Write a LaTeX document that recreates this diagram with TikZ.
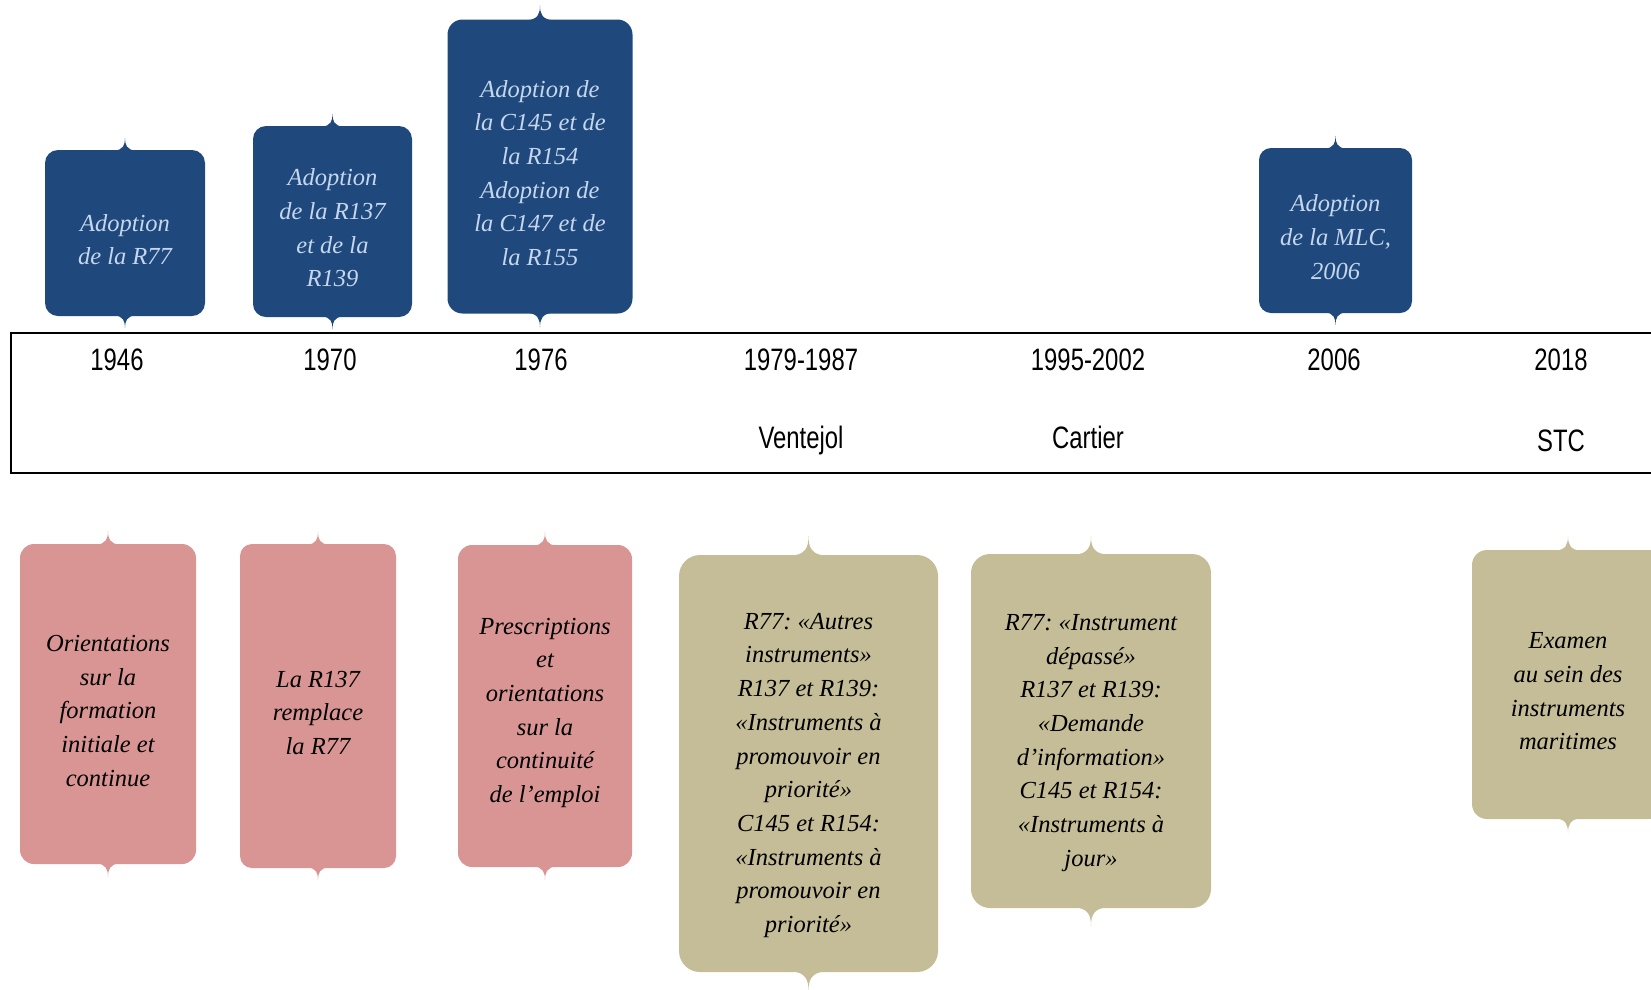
\documentclass[tikz,border=0pt]{standalone}
\usepackage{fontspec}
\newfontfamily\yearfont[FakeStretch=0.77]{Liberation Sans}
\newfontfamily\boxfont{Liberation Serif}
\usetikzlibrary{positioning}
\frenchspacing

\definecolor{adoptblue}{RGB}{31,73,125}
\definecolor{adopttext}{RGB}{198,214,236}
\definecolor{rosebox}{RGB}{217,149,148}
\definecolor{khakibox}{RGB}{196,189,151}

% pushes the text block a little down in its box
\newcommand{\lift}[1]{\rule{0pt}{#1}}

% brace-like tips on top and bottom of a box
\newcommand{\boxtips}[4]{%
  \foreach \side/\flip in {north/1,south/-1}{
    \fill[fill=#2, shift={(#1.\side)}, yscale=\flip]
      (-#3,1) .. controls (-0.15*#3,0) and (0,-0.4*#4) .. (0,-#4)
      .. controls (0,-0.4*#4) and (0.15*#3,0) .. (#3,1) -- cycle;
  }%
}

\begin{document}
\begin{tikzpicture}[
        x=1pt, y=-1pt,
        node distance=78pt,
        on grid,
        boxtext/.style={font=\boxfont\itshape\fontsize{24.5}{33.7}\selectfont, align=center, inner sep=0pt},
        adopt/.style={boxtext, fill=adoptblue, text=adopttext, rounded corners=13pt},
        rose/.style={boxtext, fill=rosebox, text=black, rounded corners=14pt},
        khaki/.style={boxtext, fill=khakibox, text=black, rounded corners=20pt},
        yearlbl/.style={font=\yearfont\fontsize{31}{31}\selectfont, text height=22pt, text depth=0pt, inner sep=0pt},
        bandframe/.style={draw=black, line width=2pt}
    ]
    \useasboundingbox (0,0) rectangle (1651,989);
    \clip (0,0) rectangle (1651,989);

    % adoption boxes
    \node[adopt, minimum width=160pt, minimum height=166pt] (a46) at (125,233) {\lift{30pt}Adoption\\de la R77};
    \node[adopt, minimum width=159pt, minimum height=191pt] (a70) at (332.5,221.5) {\lift{30pt}Adoption\\de la R137\\et de la\\R139};
    \node[adopt, minimum width=185pt, minimum height=294pt, rounded corners=15pt] (a76) at (540,166.5) {\lift{30pt}Adoption de\\la C145 et de\\la R154\\Adoption de\\la C147 et de\\la R155};
    \node[adopt, minimum width=153pt, minimum height=165pt, rounded corners=12pt] (a06) at (1335.5,230.5) {\lift{30pt}Adoption\\de la MLC,\\2006};

    % timeline band
    \draw[bandframe] (10.5,333) rectangle (1680,473);
    \node[yearlbl] (y46) at (117,359) {1946};
    \node[yearlbl] (y70) at (330,359) {1970};
    \node[yearlbl] (y76) at (541,359) {1976};
    \node[yearlbl] (y79) at (801,359) {1979-1987};
    \node[yearlbl] (y95) at (1088,359) {1995-2002};
    \node[yearlbl] (y06) at (1334,359) {2006};
    \node[yearlbl] (y18) at (1561,359) {2018};
    \node[yearlbl, below=of y79] (vent) {Ventejol};
    \node[yearlbl, below=of y95] (cart) {Cartier};
    \node[yearlbl, below=81pt of y18] (stc) {STC};

    % content boxes
    \node[rose, minimum width=176pt, minimum height=320pt] (r46) at (108,704) {\lift{30pt}Orientations\\sur la\\formation\\initiale et\\continue};
    \node[rose, minimum width=156pt, minimum height=324pt, rounded corners=12pt] (r70) at (318,706) {\lift{30pt}La R137\\remplace\\la R77};
    \node[rose, minimum width=174pt, minimum height=322pt] (r76) at (545,706) {\lift{30pt}Prescriptions\\et\\orientations\\sur la\\continuité\\de l’emploi};
    \node[khaki, minimum width=259pt, minimum height=417pt, rounded corners=21pt] (k79) at (808.5,763.5) {\lift{40pt}R77: «Autres\\instruments»\\R137 et R139:\\«Instruments à\\promouvoir en\\priorité»\\C145 et R154:\\«Instruments à\\promouvoir en\\priorité»};
    \node[khaki, minimum width=240pt, minimum height=354pt, rounded corners=19pt] (k95) at (1091,731) {\lift{40pt}R77: «Instrument\\dépassé»\\R137 et R139:\\«Demande\\d’information»\\C145 et R154:\\«Instruments à\\jour»};
    \node[khaki, minimum width=192pt, minimum height=269pt, rounded corners=15pt] (k18) at (1568,684.5) {\lift{30pt}Examen\\au sein des\\instruments\\maritimes};

    \foreach \n/\c/\w/\h in {a46/adoptblue/11/12, a70/adoptblue/11/12, a76/adoptblue/13/14, a06/adoptblue/11/12,
            r46/rosebox/12/13, r70/rosebox/11/12, r76/rosebox/12/13,
            k79/khakibox/18/19, k95/khakibox/17/18, k18/khakibox/13/14}
        \boxtips{\n}{\c}{\w}{\h};
\end{tikzpicture}
\end{document}
